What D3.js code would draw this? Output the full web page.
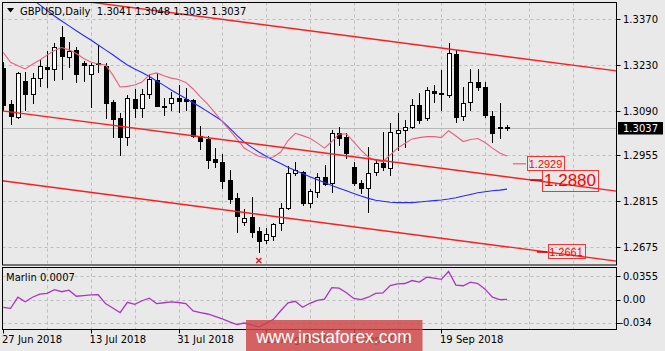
<!DOCTYPE html>
<html><head><meta charset="utf-8">
<script src="https://cdn.jsdelivr.net/npm/d3@7"></script>
<style>html,body{margin:0;padding:0;background:#e9e9e9;} svg{display:block;}</style>
</head><body>
<script>
// ---------- data ----------
const symbolTitle = "GBPUSD,Daily";
const lastOHLC = ["1.3041", "1.3048", "1.3033", "1.3037"];
const dateLabels = ["27 Jun 2018", "13 Jul 2018", "31 Jul 2018", "16 Aug 2018", "3 Sep 2018", "19 Sep 2018"];
const dateLabelBars = [0, 12, 24, 36, 48, 60];
const priceTicks = [1.3370, 1.3230, 1.3090, 1.2955, 1.2815, 1.2675];
const priceTickLabels = ["1.3370", "1.3230", "1.3090", "1.2955", "1.2815", "1.2675"];
const lastPrice = 1.3037;
const marlinTicks = [0.0355, 0.00, -0.034];
const marlinTickLabels = ["0.0355", "0.00", "-0.034"];
const marlinLast = "0.0007";

const open  = [1.3221,1.3110,1.3073,1.3181,1.3142,1.3191,1.3225,1.3217,1.3316,1.3255,
               1.3276,1.3235,1.3202,1.3235,1.3227,1.3116,1.3069,1.3012,1.3127,1.3098,
               1.3142,1.3184,1.3105,1.3115,1.3130,1.3126,1.3122,1.3014,1.3005,1.2944,
               1.2936,1.2880,1.2824,1.2751,1.2768,1.2726,1.2697,1.2710,1.2748,1.2794,
               1.2900,1.2905,1.2811,1.2844,1.2890,1.2872,1.3024,1.3010,1.2919,1.2872,
               1.2855,1.2905,1.2931,1.2916,1.3022,1.3031,1.3041,1.3107,1.3068,1.3152,
               1.3146,1.3140,1.3263,1.3075,1.3118,1.3179,1.3162,1.3075,1.3038,1.3041];
const high  = [1.3239,1.3123,1.3210,1.3210,1.3207,1.3245,1.3274,1.3296,1.3349,1.3301,
               1.3286,1.3242,1.3237,1.3291,1.3235,1.3123,1.3083,1.3139,1.3156,1.3156,
               1.3203,1.3206,1.3129,1.3149,1.3169,1.3160,1.3125,1.3044,1.3014,1.2976,
               1.2959,1.2910,1.2840,1.2791,1.2829,1.2738,1.2733,1.2750,1.2809,1.2923,
               1.2936,1.2908,1.2852,1.2902,1.2926,1.3032,1.3041,1.3022,1.2936,1.2880,
               1.2981,1.2941,1.3027,1.3053,1.3085,1.3063,1.3126,1.3144,1.3164,1.3169,
               1.3215,1.3297,1.3276,1.3164,1.3217,1.3217,1.3179,1.3090,1.3113,1.3048];
const low   = [1.3093,1.3050,1.3068,1.3093,1.3113,1.3167,1.3164,1.3184,1.3187,1.3225,
               1.3179,1.3181,1.3101,1.3210,1.3068,1.3012,1.2956,1.2987,1.3073,1.3073,
               1.3129,1.3105,1.3078,1.3093,1.3087,1.3093,1.3011,1.2973,1.2916,1.2920,
               1.2855,1.2810,1.2723,1.2743,1.2706,1.2662,1.2687,1.2697,1.2728,1.2791,
               1.2895,1.2804,1.2799,1.2827,1.2865,1.2844,1.2987,1.2946,1.2865,1.2839,
               1.2783,1.2895,1.2910,1.2895,1.2971,1.2981,1.3037,1.3053,1.3063,1.3118,
               1.3093,1.3134,1.3057,1.3063,1.3093,1.3154,1.3071,1.2997,1.3007,1.3033];
const close = [1.3108,1.3076,1.3205,1.3142,1.3191,1.3227,1.3217,1.3286,1.3257,1.3274,
               1.3203,1.3230,1.3230,1.3232,1.3113,1.3066,1.3012,1.3130,1.3098,1.3143,
               1.3186,1.3106,1.3102,1.3129,1.3120,1.3121,1.3014,1.3000,1.2941,1.2936,
               1.2878,1.2821,1.2770,1.2765,1.2723,1.2694,1.2715,1.2745,1.2796,1.2900,
               1.2910,1.2811,1.2846,1.2890,1.2868,1.3024,1.3007,1.2961,1.2870,1.2855,
               1.2902,1.2931,1.2920,1.3027,1.3032,1.3040,1.3107,1.3063,1.3154,1.3146,
               1.3142,1.3267,1.3071,1.3115,1.3179,1.3162,1.3078,1.3022,1.3041,1.3037];

// fast moving average (pink)
const maFast = [1.3268,1.3238,1.3228,1.3218,1.3232,1.3245,1.3260,1.3274,1.3283,1.3276,
                1.3265,1.3250,1.3239,1.3233,1.3230,1.3200,1.3163,1.3165,1.3169,1.3178,
                1.3200,1.3206,1.3197,1.3190,1.3186,1.3177,1.3157,1.3133,1.3111,1.3084,
                1.3058,1.3032,1.3005,1.2977,1.2964,1.2952,1.2947,1.2950,1.2965,1.3000,
                1.3022,1.3015,1.3007,1.2993,1.2977,1.2997,1.3020,1.3020,1.2996,1.2971,
                1.2950,1.2939,1.2936,1.2956,1.2977,1.2991,1.3005,1.3009,1.3012,1.3012,
                1.3009,1.3030,1.3014,1.2997,1.3003,1.3006,1.2994,1.2977,1.2962,1.2953];
// slow moving average (blue)
const maSlow = [null,null,1.3461,1.3446,1.3429,1.3413,1.3396,1.3379,1.3364,1.3349,
                1.3334,1.3320,1.3306,1.3291,1.3276,1.3261,1.3245,1.3230,1.3218,1.3207,
                1.3195,1.3181,1.3168,1.3154,1.3141,1.3128,1.3115,1.3102,1.3088,1.3074,
                1.3059,1.3038,1.3016,1.2995,1.2980,1.2965,1.2952,1.2941,1.2930,1.2919,
                1.2909,1.2900,1.2890,1.2881,1.2872,1.2863,1.2855,1.2847,1.2839,1.2831,
                1.2824,1.2818,1.2815,1.2812,1.2811,1.2811,1.2811,1.2813,1.2815,1.2817,
                1.2819,1.2822,1.2826,1.2831,1.2836,1.2841,1.2844,1.2847,1.2849,1.2852];
// Marlin oscillator
const marlin = [-0.0113,-0.0128,0.0038,-0.0030,0.0038,0.0083,0.0095,0.0150,0.0120,0.0143,
                0.0053,0.0063,0.0074,0.0075,-0.0057,-0.0123,-0.0191,-0.0038,-0.0068,-0.0015,
                0.0023,-0.0057,-0.0045,-0.0033,-0.0041,-0.0057,-0.0168,-0.0191,-0.0213,-0.0248,
                -0.0287,-0.0330,-0.0371,-0.0348,-0.0377,-0.0408,-0.0353,-0.0293,-0.0165,-0.0045,
                -0.0023,-0.0113,-0.0053,-0.0008,0.0008,0.0180,0.0173,0.0105,0.0020,0.0003,
                0.0038,0.0095,0.0102,0.0213,0.0237,0.0243,0.0287,0.0263,0.0338,0.0323,
                0.0305,0.0423,0.0218,0.0209,0.0263,0.0243,0.0158,0.0038,0.0003,0.0007];

// channel lines: [startBar, startPrice, endBar, endPrice]
const channelTop    = [0, 1.3456, 84, 1.3212];
const channelMiddle = [0, 1.3090, 84, 1.2846];
const channelBottom = [0, 1.2877, 84, 1.2633];
const levelValues = [1.2929, 1.2880, 1.2661];
const levelTexts  = ["1.2929", "1.2880", "1.2661"];
const fractalLowBars = [35];
const watermark = "www.instaforex.com";

// ---------- layout ----------
const W = 665, H = 351;
const L = 2.5, R = 616.5, T = 2.5, B = 265, MT = 267.5, MB = 329.5;
const x = d3.scaleLinear().domain([0, 84]).range([3.3, 616.5]);
const y = d3.scaleLinear().domain([1.2675, 1.3370]).range([247.3, 19]);
const ym = d3.scaleLinear().domain([-0.034, 0.0355]).range([322.5, 276]);
const FONT = "DejaVu Sans, Tahoma, sans-serif";

const svg = d3.select("body").append("svg").attr("width", W).attr("height", H);
svg.append("rect").attr("width", W).attr("height", H).attr("fill", "#e9e9e9");
const defs = svg.append("defs");
defs.append("clipPath").attr("id", "cm").append("rect").attr("x", L).attr("y", T).attr("width", R - L).attr("height", B - T);
defs.append("clipPath").attr("id", "cs").append("rect").attr("x", L).attr("y", MT).attr("width", R - L).attr("height", MB - MT);

const gMain = svg.append("g").attr("clip-path", "url(#cm)");
const gSub = svg.append("g").attr("clip-path", "url(#cs)");

// grid
const gridBars = d3.range(6, 84, 6);
const gridColor = "#bdbdbd";
gMain.selectAll(".vg").data(gridBars).join("line")
  .attr("x1", d => Math.round(x(d)) + 0.5).attr("x2", d => Math.round(x(d)) + 0.5)
  .attr("y1", T).attr("y2", B).attr("stroke", gridColor).attr("stroke-dasharray", "3,3");
gMain.selectAll(".hg").data(priceTicks).join("line")
  .attr("x1", L).attr("x2", R).attr("y1", d => Math.round(y(d)) + 0.5).attr("y2", d => Math.round(y(d)) + 0.5)
  .attr("stroke", gridColor).attr("stroke-dasharray", "3,3");
gSub.selectAll(".vg").data(gridBars).join("line")
  .attr("x1", d => Math.round(x(d)) + 0.5).attr("x2", d => Math.round(x(d)) + 0.5)
  .attr("y1", MT).attr("y2", MB).attr("stroke", gridColor).attr("stroke-dasharray", "3,3");
gSub.selectAll(".hg").data(marlinTicks).join("line")
  .attr("x1", L).attr("x2", R).attr("y1", d => Math.round(ym(d)) + 0.5).attr("y2", d => Math.round(ym(d)) + 0.5)
  .attr("stroke", gridColor).attr("stroke-dasharray", "3,3");

// last price line
gMain.append("line").attr("x1", L).attr("x2", R)
  .attr("y1", Math.round(y(lastPrice)) + 0.5).attr("y2", Math.round(y(lastPrice)) + 0.5)
  .attr("stroke", "#b8b8b8");

// candles
const bars = open.map((o, i) => ({i, o, h: high[i], l: low[i], c: close[i]}));
const cg = gMain.append("g");
bars.forEach(d => {
  const r = Math.round(x(d.i));
  cg.append("line").attr("x1", r + 0.5).attr("x2", r + 0.5)
    .attr("y1", Math.round(y(d.h))).attr("y2", Math.round(y(d.l)) + 1)
    .attr("stroke", "#000");
  const top = Math.round(y(Math.max(d.o, d.c)));
  const bot = Math.round(y(Math.min(d.o, d.c)));
  const bull = d.c >= d.o;
  cg.append("rect").attr("x", r - 1.5).attr("y", top + 0.5)
    .attr("width", 4).attr("height", Math.max(0.01, bot - top))
    .attr("fill", bull ? "#fff" : "#000").attr("stroke", "#000");
});

// moving averages
const lineGen = d3.line().defined(d => d != null).x((d, i) => x(i)).y(d => y(d));
gMain.append("path").datum(maSlow).attr("d", lineGen).attr("fill", "none").attr("stroke", "#2828ff").attr("stroke-width", 1.1);
gMain.append("path").datum(maFast).attr("d", lineGen).attr("fill", "none").attr("stroke", "#e8607f").attr("stroke-width", 1.1);

// channel
[channelTop, channelMiddle, channelBottom].forEach(c => {
  gMain.append("line").attr("x1", x(c[0]) - 1).attr("y1", y(c[1]) - (y(c[3]) - y(c[1])) / (x(c[2]) - x(c[0])))
    .attr("x2", x(c[2])).attr("y2", y(c[3]))
    .attr("stroke", "#ff1c1c").attr("stroke-width", 1.4);
});

// fractal marker
fractalLowBars.forEach(b => {
  const cx = x(b), cy = y(low[b]) + 9;
  gMain.append("path").attr("d", `M${cx-2.5},${cy-2.5}L${cx+2.5},${cy+2.5}M${cx+2.5},${cy-2.5}L${cx-2.5},${cy+2.5}`)
    .attr("stroke", "#ff1010").attr("stroke-width", 1.5);
});

// level labels
const levelCfg = [
  {bar: 71.7, size: 11, seg: [69.8, 71.6], segColor: "#f07a8a"},
  {bar: 73.8, size: 17, seg: [72.2, 73.8], segColor: "#c00000"},
  {bar: 74.5, size: 11, seg: [73.1, 74.5], segColor: "#c00000"}
];
levelValues.forEach((v, k) => {
  const cfg = levelCfg[k];
  const yy = y(v);
  gMain.append("line").attr("x1", x(cfg.seg[0])).attr("x2", x(cfg.seg[1]))
    .attr("y1", yy).attr("y2", yy).attr("stroke", cfg.segColor).attr("stroke-width", 1.5);
  const t = gMain.append("text").attr("x", x(cfg.bar) + 2).attr("y", yy).attr("dy", "0.36em")
    .attr("font-family", "Liberation Sans, Arial, sans-serif").attr("font-size", cfg.size)
    .attr("fill", "#ff0000").text(levelTexts[k]);
  const bb = t.node().getBBox();
  const pad = cfg.size > 14 ? 2 : 1.5;
  gMain.insert("rect", "text").attr("x", Math.round(bb.x - pad) + 0.5).attr("y", Math.round(bb.y - pad + (cfg.size > 14 ? 1 : 0)) + 0.5)
    .attr("width", Math.round(bb.width + 2 * pad)).attr("height", Math.round(bb.height + 2 * pad - (cfg.size > 14 ? 2 : 1)))
    .attr("fill", "none").attr("stroke", "#ff3030").attr("stroke-width", 1);
});

// marlin line
const mLine = d3.line().x((d, i) => x(i)).y(d => ym(d));
gSub.append("path").datum(marlin).attr("d", mLine).attr("fill", "none").attr("stroke", "#a936c2").attr("stroke-width", 1.3);

// frames
const frame = svg.append("g").attr("fill", "none").attr("stroke", "#000");
frame.append("rect").attr("x", L).attr("y", T).attr("width", R - L).attr("height", B - T);
frame.append("rect").attr("x", L).attr("y", MT).attr("width", R - L).attr("height", MB - MT);

// price axis
const ax = svg.append("g").attr("font-family", FONT).attr("font-size", 10).attr("fill", "#000");
priceTicks.forEach((p, k) => {
  const yy = Math.round(y(p)) + 0.5;
  ax.append("line").attr("x1", R).attr("x2", R + 4).attr("y1", yy).attr("y2", yy).attr("stroke", "#000");
  ax.append("text").attr("x", 623).attr("y", y(p)).attr("dy", "0.36em").text(priceTickLabels[k]);
});
ax.append("rect").attr("x", 618).attr("y", Math.round(y(lastPrice)) - 6).attr("width", 45).attr("height", 12.5).attr("fill", "#000");
ax.append("text").attr("x", 623).attr("y", y(lastPrice)).attr("dy", "0.36em").attr("fill", "#fff").text(lastPrice.toFixed(4));
marlinTicks.forEach((v, k) => {
  const yy = Math.round(ym(v)) + 0.5;
  ax.append("line").attr("x1", R).attr("x2", R + 4).attr("y1", yy).attr("y2", yy).attr("stroke", "#000");
  ax.append("text").attr("x", v < 0 ? 619.5 : 623).attr("y", ym(v)).attr("dy", "0.36em").text(marlinTickLabels[k]);
});

// date axis
dateLabelBars.forEach((b, k) => {
  const xx = Math.round(x(b)) + 0.5;
  ax.append("line").attr("x1", xx).attr("x2", xx).attr("y1", MB).attr("y2", MB + 4).attr("stroke", "#000");
  ax.append("text").attr("x", x(b) - 1.3).attr("y", 343).text(dateLabels[k]);
});

// titles
svg.append("path").attr("d", "M7,8L14,8L10.5,12.5Z").attr("fill", "#000");
svg.append("text").attr("x", 20).attr("y", 15).attr("font-family", FONT).attr("font-size", 10)
  .attr("fill", "#000").attr("xml:space", "preserve")
  .text(symbolTitle + "  " + lastOHLC.join(" "));
svg.append("text").attr("x", 6).attr("y", 281).attr("font-family", FONT).attr("font-size", 10)
  .attr("fill", "#000").text("Marlin " + marlinLast);

// watermark
svg.append("rect").attr("x", 246).attr("y", 320).attr("width", 176.5).attr("height", 31)
  .attr("fill", "#d04444").attr("fill-opacity", 0.82);
svg.append("text").attr("x", 334).attr("y", 343).attr("text-anchor", "middle")
  .attr("font-family", "Liberation Sans, Arial, sans-serif").attr("font-size", 17.5)
  .attr("fill", "#fff").text(watermark);
</script>
</body></html>
